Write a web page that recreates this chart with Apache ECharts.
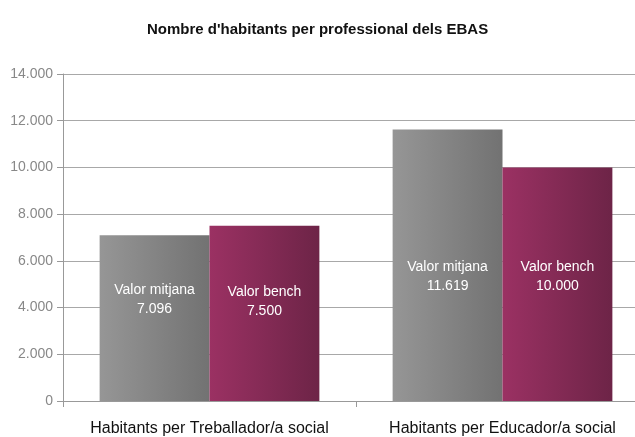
<!DOCTYPE html>
<html>
<head>
<meta charset="utf-8">
<script src="https://cdn.jsdelivr.net/npm/echarts@6/dist/echarts.min.js"></script>
<style>
  html, body { margin: 0; padding: 0; background: #fff; overflow: hidden; }
  /* plot area runs past the right edge in the original, so the canvas is a bit wider than the window */
  #chart { width: 649px; height: 437px; }
</style>
</head>
<body>
<div id="chart"></div>
<script>
  // data
  const categories = ['Habitants per Treballador/a social', 'Habitants per Educador/a social']
  const seriesNames = ['Valor mitjana', 'Valor bench']
  const mitjanaValues = [7096, 11619]
  const benchValues = [7500, 10000]
  const yTicks = [0, 2000, 4000, 6000, 8000, 10000, 12000, 14000]

  // label nudges (style only), per category
  const mitjanaLabelShift = [-18, 11]
  const benchLabelShift = [-12, -8]

  const font = '"Liberation Sans Narrow", "Arial Narrow", "Liberation Sans", Arial, sans-serif'
  const fmt = v => Math.round(v).toString().replace(/\B(?=(\d{3})+(?!\d))/g, '.')

  function grad (a, b) {
    return new echarts.graphic.LinearGradient(0, 0, 1, 0, [
      {offset: 0, color: a},
      {offset: 1, color: b}
    ])
  }

  function barLabel (name) {
    return {
      show: true,
      position: 'inside',
      color: '#fff',
      fontFamily: font,
      fontSize: 14,
      lineHeight: 19,
      formatter: p => name + '\n' + fmt(p.value)
    }
  }

  function withShift (values, shifts) {
    return values.map((v, i) => ({value: v, label: {offset: [0, shifts[i]]}}))
  }

  const option = {
    backgroundColor: '#fff',
    animation: false,
    title: {
      text: "Nombre d'habitants per professional dels EBAS",
      left: 142,
      top: 17,
      padding: 5,
      textStyle: {
        fontFamily: font,
        fontSize: 15,
        fontWeight: 'bold',
        color: '#111'
      }
    },
    grid: {left: 63, right: 0, top: 74, bottom: 36, containLabel: false},
    xAxis: {
      type: 'category',
      data: categories,
      axisLine: {lineStyle: {color: '#999'}},
      axisTick: {show: true, length: 6, lineStyle: {color: '#999'}},
      axisLabel: {
        interval: 0,
        color: '#111',
        fontFamily: font,
        fontSize: 16,
        margin: 20
      }
    },
    yAxis: {
      type: 'value',
      min: yTicks[0],
      max: yTicks[yTicks.length - 1],
      interval: 2000,
      axisLine: {show: true, lineStyle: {color: '#999'}},
      axisTick: {show: true, length: 6, lineStyle: {color: '#999'}},
      splitLine: {lineStyle: {color: '#a8a8a8'}},
      axisLabel: {
        color: '#888',
        fontFamily: font,
        fontSize: 14,
        margin: 10,
        formatter: v => fmt(v)
      }
    },
    series: [{
      name: seriesNames[0],
      type: 'bar',
      barCategoryGap: '25%',
      barGap: '0%',
      itemStyle: {color: grad('#969696', '#727272')},
      label: barLabel(seriesNames[0]),
      data: withShift(mitjanaValues, mitjanaLabelShift)
    }, {
      name: seriesNames[1],
      type: 'bar',
      itemStyle: {color: grad('#9b3163', '#6d2447')},
      label: barLabel(seriesNames[1]),
      data: withShift(benchValues, benchLabelShift)
    }]
  }

  const chart = echarts.init(document.getElementById('chart'))
  chart.setOption(option)
</script>
</body>
</html>
